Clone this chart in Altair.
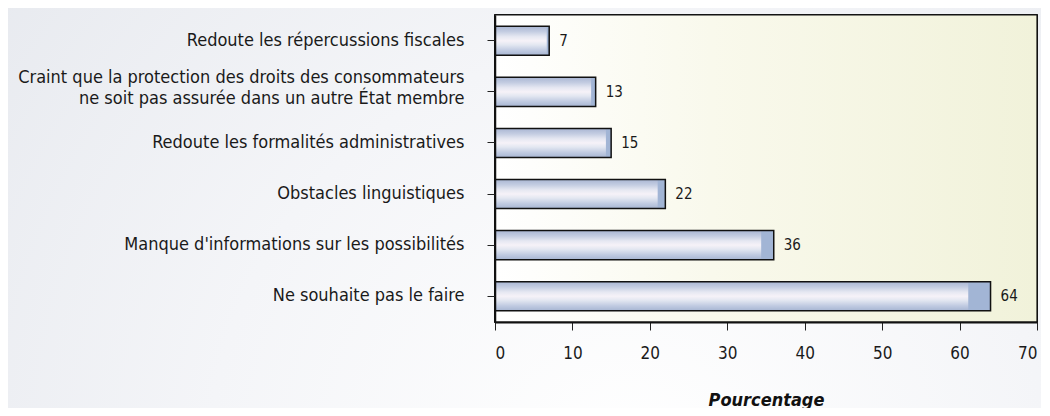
import altair as alt
import pandas as pd

categories = [
    "Redoute les répercussions fiscales",
    "Craint que la protection des droits des consommateurs\nne soit pas assurée dans un autre État membre",
    "Redoute les formalités administratives",
    "Obstacles linguistiques",
    "Manque d'informations sur les possibilités",
    "Ne souhaite pas le faire",
]
values = [7, 13, 15, 22, 36, 64]
x_ticks = [0, 10, 20, 30, 40, 50, 60, 70]

df = pd.DataFrame({"cat": categories, "val": values})

W, H = 542, 307
PL, PT, PR, PB = 487, 7, 4, 86
FONT = "DejaVu Sans Condensed"

bg_all = alt.Chart(df).mark_rect(
    fill=alt.Gradient(
        gradient="radial",
        stops=[alt.GradientStop(color="#ffffff", offset=0),
               alt.GradientStop(color="#f4f5f8", offset=0.45),
               alt.GradientStop(color="#e3e6ec", offset=1)],
        x1=0.6, y1=0.75, r1=0, x2=0.6, y2=0.75, r2=0.9,
    ),
    clip=False,
).encode(
    x=alt.value(-PL), x2=alt.value(W + PR),
    y=alt.value(-PT), y2=alt.value(H + PB),
)

bg_plot = alt.Chart(df).mark_rect(
    fill=alt.Gradient(
        gradient="linear",
        stops=[alt.GradientStop(color="#ffffff", offset=0),
               alt.GradientStop(color="#f9f9ec", offset=0.4),
               alt.GradientStop(color="#f1f2da", offset=1)],
        x1=0, y1=0, x2=1, y2=0,
    ),
    stroke="#111111", strokeWidth=1.2,
).encode(x=alt.value(0), x2=alt.value(W), y=alt.value(0), y2=alt.value(H))

ysc = alt.Y("cat:N", sort=categories,
            scale=alt.Scale(paddingInner=0.43, paddingOuter=0.22),
            axis=alt.Axis(title=None, labelExpr="split(datum.label, '\\n')",
                          labelFont=FONT, labelFontSize=18, labelColor="#1a1a1a",
                          labelLineHeight=21, labelPadding=23, tickSize=8,
                          labelOffset={"condition": {"test": "indexof(datum.value, '\\n') >= 0",
                                                     "value": -14},
                                       "value": 0},
                          tickColor="#222", domainColor="#111", domainWidth=1.5,
                          labelLimit=500, zindex=1))
xsc = alt.X("val:Q", scale=alt.Scale(domain=[0, 70], nice=False),
            axis=alt.Axis(values=x_ticks, title="Pourcentage", grid=False,
                          labelFont=FONT, labelFontSize=17, labelColor="#1a1a1a",
                          labelPadding=15, tickSize=8, tickColor="#222",
                          domainColor="#111", domainWidth=2,
                          titleFont=FONT, titleFontSize=18, titleFontWeight="bold",
                          titleFontStyle="italic", titleColor="#111",
                          titleBaseline="alphabetic", titleY=83, zindex=1))

bars = alt.Chart(df).mark_bar(
    fill=alt.Gradient(
        gradient="linear",
        stops=[alt.GradientStop(color="#a9b6d3", offset=0),
               alt.GradientStop(color="#c3cce1", offset=0.18),
               alt.GradientStop(color="#e6e8f2", offset=0.36),
               alt.GradientStop(color="#f6f2f8", offset=0.5),
               alt.GradientStop(color="#e3e7f1", offset=0.64),
               alt.GradientStop(color="#c2cce2", offset=0.82),
               alt.GradientStop(color="#a6b5d2", offset=1)],
        x1=0, y1=0, x2=0, y2=1,
    ),
    stroke=None,
).encode(x=xsc, y=ysc)

ends = alt.Chart(df).transform_calculate(
    start="datum.val * 0.955"
).mark_bar(fill="#a2b5d5", stroke=None).encode(
    x=alt.X("start:Q"), x2="val:Q", y=alt.Y("cat:N", sort=categories)
)

outline = alt.Chart(df).mark_bar(fill=None, stroke="#111111", strokeWidth=1.5).encode(
    x=alt.X("val:Q"), y=alt.Y("cat:N", sort=categories)
)

labels = alt.Chart(df).mark_text(
    align="left", baseline="middle", dx=10, font=FONT, fontSize=15, color="#1a1a1a"
).encode(x=alt.X("val:Q"), y=alt.Y("cat:N", sort=categories), text="val:Q")

chart = alt.layer(bg_all, bg_plot, bars, ends, outline, labels).properties(
    width=W, height=H,
    autosize=alt.AutoSizeParams(type="none"),
    padding={"left": PL, "top": PT, "right": PR, "bottom": PB},
    background="#eceef2",
).configure_view(stroke=None)

chart.save("out.html", embed_options={"renderer": "svg", "actions": False})
